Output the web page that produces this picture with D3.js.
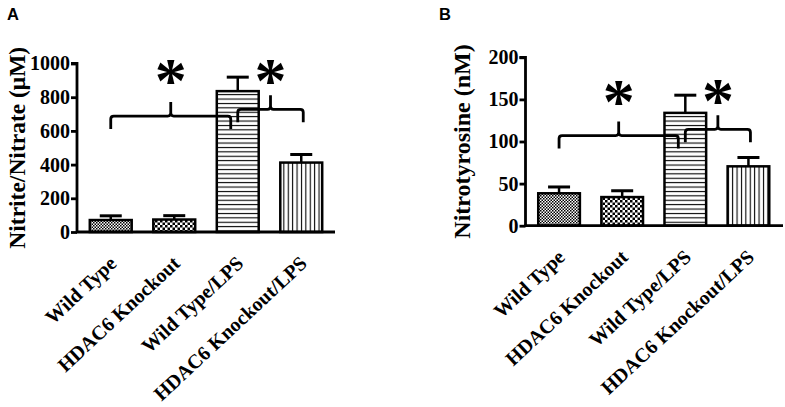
<!DOCTYPE html>
<html>
<head>
<meta charset="utf-8">
<script src="https://cdn.jsdelivr.net/npm/d3@7"></script>
<style>
  body { margin: 0; background: #fff; }
  svg { display: block; }
  .tick text { font-family: "Liberation Serif", serif; font-weight: bold; }
</style>
</head>
<body>
<svg id="chart-area"></svg>
<script>
// groups on the x axis (same for both panels)
const groups = ["Wild Type", "HDAC6 Knockout", "Wild Type/LPS", "HDAC6 Knockout/LPS"]
const fills = ["dots", "checker", "hlines", "vlines"]

// panel A - nitrite/nitrate (uM)
const nitriteMean = [71, 74, 836, 412]
const nitriteErr = [25, 23, 83, 48]
const nitriteTicks = [0, 200, 400, 600, 800, 1000]
// brackets: [from group, to group, level], star level
const nitriteBrackets = [[0, 2, 688], [2, 3, 728]]
const nitriteStars = [947, 947]

// panel B - nitrotyrosine (nM)
const nitroMean = [38.5, 34, 134, 70.5]
const nitroErr = [7.5, 7.5, 21, 10.5]
const nitroTicks = [0, 50, 100, 150, 200]
const nitroBrackets = [[0, 2, 107], [2, 3, 114.5]]
const nitroStars = [158, 159]

const width = 785
const height = 407

const svg = d3.select("#chart-area")
    .attr("width", width)
    .attr("height", height)

svg.append("rect").attr("width", width).attr("height", height).attr("fill", "#fff")

// hatch patterns
const defs = svg.append("defs")

const dots = defs.append("pattern").attr("id", "dots")
    .attr("patternUnits", "userSpaceOnUse").attr("width", 3).attr("height", 3)
dots.append("rect").attr("width", 3).attr("height", 3).attr("fill", "#fff")
dots.append("rect").attr("width", 1.5).attr("height", 1.5).attr("fill", "#000")
dots.append("rect").attr("x", 1.5).attr("y", 1.5).attr("width", 1.5).attr("height", 1.5).attr("fill", "#000")

const checker = defs.append("pattern").attr("id", "checker")
    .attr("patternUnits", "userSpaceOnUse").attr("width", 5).attr("height", 5)
checker.append("rect").attr("width", 5).attr("height", 5).attr("fill", "#fff")
checker.append("rect").attr("width", 2.5).attr("height", 2.5).attr("fill", "#000")
checker.append("rect").attr("x", 2.5).attr("y", 2.5).attr("width", 2.5).attr("height", 2.5).attr("fill", "#000")

const hlines = defs.append("pattern").attr("id", "hlines")
    .attr("patternUnits", "userSpaceOnUse").attr("width", 10).attr("height", 4.4)
hlines.append("rect").attr("width", 10).attr("height", 4.4).attr("fill", "#fff")
hlines.append("rect").attr("y", 1.7).attr("width", 10).attr("height", 1.1).attr("fill", "#000")

const vlines = defs.append("pattern").attr("id", "vlines")
    .attr("patternUnits", "userSpaceOnUse").attr("width", 4.4).attr("height", 10)
vlines.append("rect").attr("width", 4.4).attr("height", 10).attr("fill", "#fff")
vlines.append("rect").attr("x", 1.7).attr("width", 1.1).attr("height", 10).attr("fill", "#000")

function drawPanel(p) {
    const g = svg.append("g")

    const x = d3.scaleBand()
        .domain(groups)
        .range(p.xRange)
        .paddingInner(0.34)
        .paddingOuter(0.17)

    const y = d3.scaleLinear()
        .domain([0, p.max])
        .range(p.yRange)

    const data = groups.map((name, i) => ({ name: name, mean: p.mean[i], err: p.err[i], fill: fills[i] }))

    // panel letter
    g.append("text")
        .attr("x", p.letterX).attr("y", 20)
        .attr("font-family", "Liberation Sans, Arial, sans-serif")
        .attr("font-weight", "bold").attr("font-size", 16.5)
        .text(p.letter)

    // error whiskers (upper only)
    g.selectAll(".whisker")
        .data(data)
        .enter().append("line")
        .attr("x1", d => x(d.name) + x.bandwidth() / 2)
        .attr("x2", d => x(d.name) + x.bandwidth() / 2)
        .attr("y1", d => y(d.mean))
        .attr("y2", d => y(d.mean + d.err))
        .attr("stroke", "#000").attr("stroke-width", 2.5)

    g.selectAll(".cap")
        .data(data)
        .enter().append("line")
        .attr("x1", d => x(d.name) + x.bandwidth() / 2 - 11)
        .attr("x2", d => x(d.name) + x.bandwidth() / 2 + 11)
        .attr("y1", d => y(d.mean + d.err))
        .attr("y2", d => y(d.mean + d.err))
        .attr("stroke", "#000").attr("stroke-width", 3)

    // bars
    g.selectAll(".bar")
        .data(data)
        .enter().append("rect")
        .attr("x", d => x(d.name))
        .attr("y", d => y(d.mean))
        .attr("width", x.bandwidth())
        .attr("height", d => y(0) - y(d.mean))
        .attr("fill", d => `url(#${d.fill})`)
        .attr("stroke", "#000").attr("stroke-width", 2.5)

    // y axis
    const yAxis = g.append("g")
        .attr("transform", `translate(${p.xRange[0] - 2},0)`)
        .call(d3.axisLeft(y).tickValues(p.ticks).tickFormat(d3.format("d")).tickSize(6).tickPadding(1))
    yAxis.selectAll("path, line").attr("stroke", "#000").attr("stroke-width", 2.8)
    yAxis.select(".domain").attr("d", `M-6,${y(p.max)}H0V${y(0)}`)
    yAxis.selectAll("text").attr("font-size", 20).attr("fill", "#000")

    // x axis line
    g.append("line")
        .attr("x1", p.xRange[0] - 3).attr("x2", p.axisEnd)
        .attr("y1", y(0)).attr("y2", y(0))
        .attr("stroke", "#000").attr("stroke-width", 2.8)

    // x labels
    g.selectAll(".xlabel")
        .data(groups)
        .enter().append("text")
        .attr("transform", d => `translate(${x(d) + x.bandwidth() / 2 + 7},${y(0) + 33}) rotate(-43)`)
        .attr("text-anchor", "end")
        .attr("font-family", "Liberation Serif, serif")
        .attr("font-weight", "bold").attr("font-size", 20)
        .text(d => d)

    // y title
    g.append("text")
        .attr("transform", `translate(${p.titleX},${(y(0) + y(p.max)) / 2}) rotate(-90)`)
        .attr("text-anchor", "middle")
        .attr("font-family", "Liberation Serif, serif")
        .attr("font-weight", "bold").attr("font-size", p.titleSize)
        .text(p.title)

    // significance brackets
    const cx = i => x(groups[i]) + x.bandwidth() / 2
    p.brackets.forEach((b, k) => {
        const x1 = cx(b[0])
        const x2 = cx(b[1]) + (k == 0 ? -7 : 2)
        const yh = y(b[2])
        const xm = (x1 + x2) / 2
        const r = 3
        const path = d3.path()
        path.moveTo(x1, yh + 13)
        path.lineTo(x1, yh + r)
        path.quadraticCurveTo(x1, yh, x1 + r, yh)
        path.lineTo(xm - r, yh)
        path.quadraticCurveTo(xm, yh, xm, yh - r)
        path.lineTo(xm, yh - 14)
        path.moveTo(xm, yh - r)
        path.quadraticCurveTo(xm, yh, xm + r, yh)
        path.lineTo(x2 - r, yh)
        path.quadraticCurveTo(x2, yh, x2, yh + r)
        path.lineTo(x2, yh + 13)
        g.append("path")
            .attr("d", path.toString())
            .attr("fill", "none")
            .attr("stroke", "#000").attr("stroke-width", 2.8)

        g.append("text")
            .attr("x", xm).attr("y", y(p.stars[k]) + 30)
            .attr("text-anchor", "middle")
            .attr("font-family", "Liberation Serif, serif")
            .attr("font-weight", "bold").attr("font-size", 64)
            .text("*")
    })
}

drawPanel({
    letter: "A", letterX: 7,
    mean: nitriteMean, err: nitriteErr, ticks: nitriteTicks, max: 1000,
    brackets: nitriteBrackets, stars: nitriteStars,
    xRange: [79, 333], yRange: [232, 63.5], axisEnd: 335,
    title: "Nitrite/Nitrate (\u03bcM)", titleX: 25, titleSize: 23.5
})

drawPanel({
    letter: "B", letterX: 439,
    mean: nitroMean, err: nitroErr, ticks: nitroTicks, max: 200,
    brackets: nitroBrackets, stars: nitroStars,
    xRange: [527.5, 780], yRange: [225.7, 57.3], axisEnd: 783,
    title: "Nitrotyrosine (nM)", titleX: 470, titleSize: 24
})
</script>
</body>
</html>
